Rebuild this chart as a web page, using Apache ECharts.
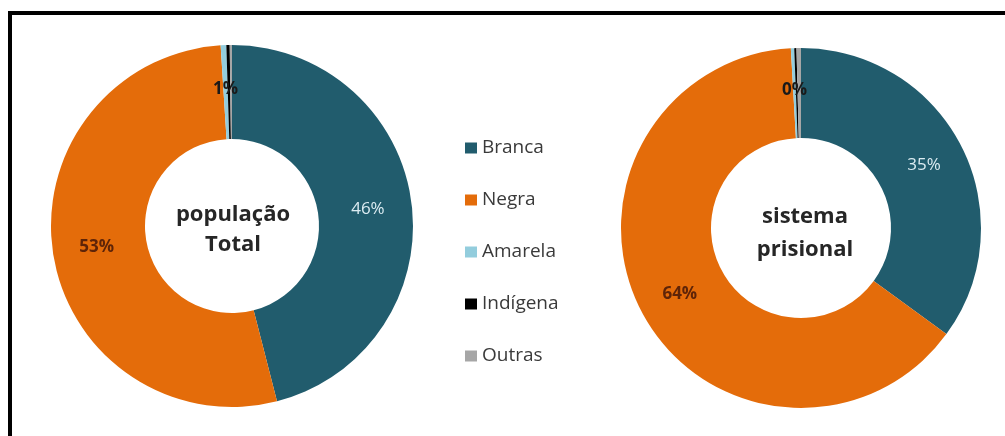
<!DOCTYPE html>
<html>
<head>
<meta charset="utf-8">
<script src="https://cdn.jsdelivr.net/npm/echarts@6/dist/echarts.min.js"></script>
<style>
html,body{margin:0;padding:0;background:#fff;}
#c{width:1005px;height:436px;}
</style>
</head>
<body>
<div id="c"></div>
<script>
var categories = ['Branca', 'Negra', 'Amarela', 'Indígena', 'Outras'];
var populacaoTotal = [46, 53, 0.5, 0.3, 0.2];
var sistemaPrisional = [35, 64, 0.3, 0.2, 0.4];
var colors = ['#215C6D', '#E46C0A', '#93CDDD', '#000000', '#A6A6A6'];
var labelColors = ['#DCECF2', '#5E2408', '#1a1a1a', '#1a1a1a', '#1a1a1a'];
var labelWeights = ['normal', 'bold', 'bold', 'bold', 'bold'];

function build(values) {
  return categories.map(function (name, i) {
    return {
      name: name,
      value: values[i],
      itemStyle: { color: colors[i] },
      label: { color: labelColors[i], fontWeight: labelWeights[i] }
    };
  });
}

function pieSeries(values, center, radius) {
  return {
    type: 'pie',
    center: center,
    radius: radius,
    startAngle: 90,
    clockwise: true,
    avoidLabelOverlap: false,
    silent: true,
    label: {
      show: true,
      position: 'inside',
      fontFamily: 'Open Sans',
      fontSize: 17,
      formatter: function (p) { return Math.round(p.percent) + '%'; }
    },
    labelLine: { show: false },
    itemStyle: { borderWidth: 0 },
    data: build(values)
  };
}

var chart = echarts.init(document.getElementById('c'));
chart.setOption({
  animation: false,
  backgroundColor: '#ffffff',
  legend: {
    orient: 'vertical',
    left: 460,
    top: 133,
    itemWidth: 12,
    itemHeight: 11,
    itemGap: 32,
    icon: 'rect',
    data: categories,
    textStyle: { fontFamily: 'Open Sans', fontSize: 19, color: '#3a3a3a', lineHeight: 20 }
  },
  graphic: [
    {
      type: 'rect',
      shape: { x: 10, y: 13, width: 1010, height: 440 },
      style: { fill: 'none', stroke: '#000', lineWidth: 4 },
      silent: true
    },
    {
      type: 'text',
      x: 233, y: 230,
      style: {
        text: 'população\nTotal',
        fontFamily: 'Open Sans', fontWeight: 'bold', fontSize: 22, lineHeight: 30,
        fill: '#262626', align: 'center', verticalAlign: 'middle'
      }
    },
    {
      type: 'text',
      x: 805, y: 233,
      style: {
        text: 'sistema\nprisional',
        fontFamily: 'Open Sans', fontWeight: 'bold', fontSize: 22, lineHeight: 33,
        fill: '#262626', align: 'center', verticalAlign: 'middle'
      }
    }
  ],
  series: [
    pieSeries(populacaoTotal, [232, 226], [87, 181]),
    pieSeries(sistemaPrisional, [801, 228], [90, 180])
  ]
});
</script>
</body>
</html>
